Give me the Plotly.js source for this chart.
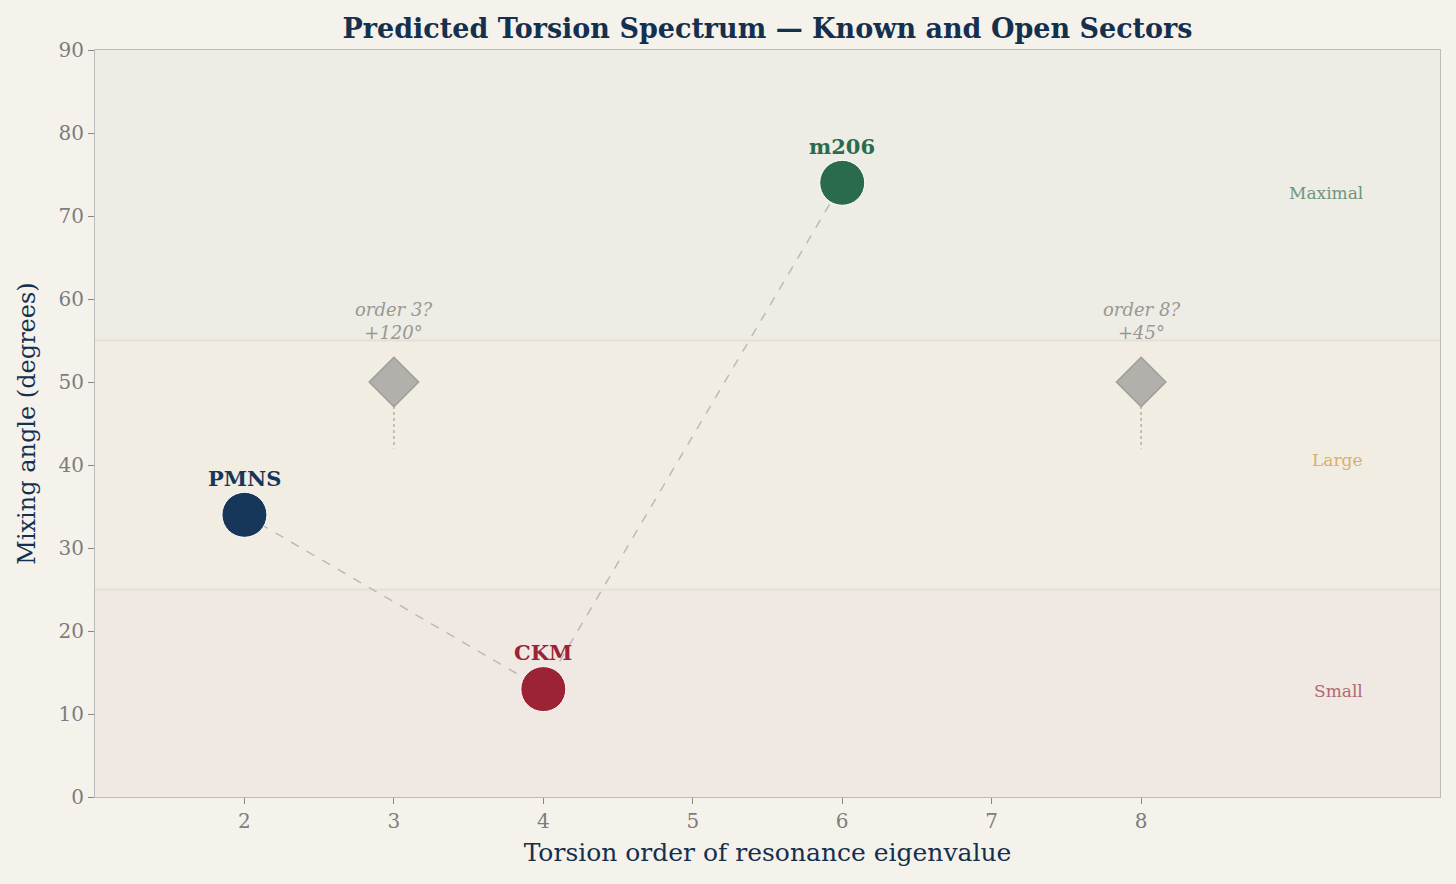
<!DOCTYPE html>
<html>
<head>
<meta charset="utf-8">
<script src="https://cdn.plot.ly/plotly-3.0.1.min.js"></script>
<style>
  html, body { margin: 0; padding: 0; background: #f5f2eb; }
  #torsion_plot { width: 1456px; height: 884px; }
</style>
</head>
<body>
<div id="torsion_plot"></div>
<script>
// known sectors
const known_names = ['PMNS', 'CKM', 'm206'];
const known_order = [2, 4, 6];
const known_angle = [34, 13, 74];
const known_colors = ['#163759', '#9b2335', '#2a6b4d'];

// open (predicted) sectors
const open_order = [3, 8];
const open_angle = [50, 50];
const open_floor = [42, 42];
const open_labels = ['order 3?<br>+120°', 'order 8?<br>+45°'];

// mixing-angle regimes
const band_names = ['Small', 'Large', 'Maximal'];
const band_lo = [0, 25, 55];
const band_hi = [25, 55, 90];
const band_fill = ['#f0e8e3', '#f2ede3', '#edece5'];
const band_text = ['#b06a72', '#d8b06a', '#6f967f'];
const band_label_y = [12.8, 40.6, 72.8];

const x_ticks = [2, 3, 4, 5, 6, 7, 8];

const font_family = '"DejaVu Serif", "Liberation Serif", serif';

const data = [];

// dashed path through the known sectors
data.push({
  x: known_order,
  y: known_angle,
  mode: 'lines',
  type: 'scatter',
  line: { color: '#bdbab3', width: 1.5, dash: 'dash' },
  hoverinfo: 'skip',
  showlegend: false,
});

// dotted stems under the open sectors
open_order.forEach((x, i) => {
  data.push({
    x: [x, x],
    y: [open_angle[i], open_floor[i]],
    mode: 'lines',
    type: 'scatter',
    line: { color: '#b3b0aa', width: 1.5, dash: 'dot' },
    hoverinfo: 'skip',
    showlegend: false,
  });
});

data.push({
  x: open_order,
  y: open_angle,
  mode: 'markers',
  type: 'scatter',
  marker: {
    symbol: 'diamond',
    size: 38,
    color: '#b1b0ab',
    line: { color: '#9e9d99', width: 1.5 },
  },
  showlegend: false,
});

data.push({
  x: known_order,
  y: known_angle,
  mode: 'markers',
  type: 'scatter',
  marker: {
    size: 45,
    color: known_colors,
    line: { color: '#ffffff', width: 1 },
  },
  text: known_names,
  showlegend: false,
});

const shapes = band_lo.map((lo, i) => ({
  type: 'rect',
  xref: 'paper',
  yref: 'y',
  x0: 0,
  x1: 1,
  y0: lo,
  y1: band_hi[i],
  fillcolor: band_fill[i],
  line: { width: 0 },
  layer: 'below',
}));
// faint boundaries between regimes
[25, 55].forEach((yv) => {
  shapes.push({
    type: 'line',
    xref: 'paper',
    yref: 'y',
    x0: 0,
    x1: 1,
    y0: yv,
    y1: yv,
    line: { color: '#e6dfd4', width: 2 },
    layer: 'below',
  });
});

const annotations = [];
known_names.forEach((name, i) => {
  annotations.push({
    x: known_order[i],
    y: known_angle[i] + 4.4,
    text: '<b>' + name + '</b>',
    showarrow: false,
    font: { family: font_family, size: 21, color: known_colors[i] },
  });
});
open_order.forEach((x, i) => {
  annotations.push({
    x: x,
    y: 57.3,
    text: '<i>' + open_labels[i] + '</i>',
    showarrow: false,
    font: { family: font_family, size: 18, color: '#9a9894' },
    yanchor: 'middle',
  });
});
band_names.forEach((name, i) => {
  annotations.push({
    x: 9.5,
    y: band_label_y[i],
    text: name,
    showarrow: false,
    xanchor: 'right',
    font: { family: font_family, size: 17, color: band_text[i] },
  });
});

const layout = {
  width: 1456,
  height: 884,
  paper_bgcolor: '#f5f2eb',
  plot_bgcolor: '#f5f2eb',
  font: { family: font_family },
  margin: { l: 95, r: 16, t: 50, b: 87 },
  title: {
    text: '<b>Predicted Torsion Spectrum — Known and Open Sectors</b>',
    font: { family: font_family, size: 27, color: '#14304f' },
    xref: 'paper',
    x: 0.5,
    xanchor: 'center',
    y: 0.968,
    yanchor: 'middle',
  },
  xaxis: {
    range: [1, 10],
    tickvals: x_ticks,
    ticks: 'outside',
    ticklen: 6,
    tickcolor: '#888',
    tickfont: { family: font_family, size: 20, color: '#7d7d7d' },
    showgrid: false,
    zeroline: false,
    showline: true,
    mirror: true,
    linecolor: '#bcbcbc',
    linewidth: 1,
    title: {
      text: 'Torsion order of resonance eigenvalue',
      font: { family: font_family, size: 25, color: '#14304f' },
      standoff: 11,
    },
  },
  yaxis: {
    range: [0, 90],
    dtick: 10,
    ticks: 'outside',
    ticklen: 6,
    tickcolor: '#888',
    tickfont: { family: font_family, size: 20, color: '#7d7d7d' },
    showgrid: false,
    zeroline: false,
    showline: true,
    mirror: true,
    linecolor: '#bcbcbc',
    linewidth: 1,
    title: {
      text: 'Mixing angle (degrees)',
      font: { family: font_family, size: 24, color: '#14304f' },
      standoff: 16,
    },
  },
  shapes: shapes,
  annotations: annotations,
  hovermode: 'closest',
};

Plotly.newPlot('torsion_plot', data, layout, { displayModeBar: false });
</script>
</body>
</html>
